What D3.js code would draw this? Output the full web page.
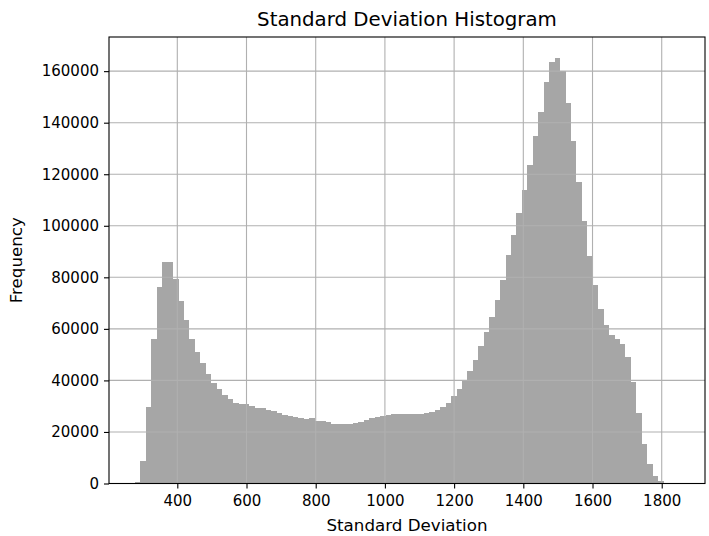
<!DOCTYPE html>
<html>
<head>
<meta charset="utf-8">
<script src="https://cdn.jsdelivr.net/npm/d3@7"></script>
<style>
  html, body { margin: 0; padding: 0; background: #ffffff; }
  svg { display: block; font-family: "DejaVu Sans", sans-serif; }
</style>
</head>
<body>
<svg id="chart" width="709" height="536"></svg>
<script>
// ---- data ----
const titleText = "Standard Deviation Histogram";
const xLabelText = "Standard Deviation";
const yLabelText = "Frequency";

const binStart = 277.7;   // left edge of first bin (std-dev units)
const binWidth = 15.75;   // width of each bin (std-dev units)

const frequencies = [
  600, 8800, 29800, 55900, 76300, 85800, 85800, 79200, 70800, 63300,
  56000, 50900, 46600, 42500, 38900, 36500, 34200, 32700, 31300, 31000,
  30900, 30000, 29400, 29300, 28700, 28000, 27200, 26700, 26200, 25800,
  25300, 24900, 25300, 24200, 24200, 23700, 22900, 22900, 22900, 22900,
  23300, 24000, 24600, 25300, 25700, 26300, 26700, 27100, 26800, 26800,
  26800, 27000, 27000, 27200, 27700, 28500, 29500, 31200, 33800, 36500,
  40000, 43700, 48100, 53200, 58700, 64500, 71100, 79100, 88600, 96600,
  105000, 113800, 123700, 134700, 144300, 155600, 163500, 165000, 160000, 147800,
  132800, 116900, 101800, 88200, 76900, 67900, 61400, 57500, 56200, 54300,
  49100, 39300, 27500, 15400, 7400, 2800, 850, 300, 100, 40
];

const xTicks = [400, 600, 800, 1000, 1200, 1400, 1600, 1800];
const yTicks = [0, 20000, 40000, 60000, 80000, 100000, 120000, 140000, 160000];

// ---- layout ----
const L = 109, R = 705, T = 37, B = 483.5;
const svg = d3.select("#chart");

const bins = frequencies.map((f, i) => ({
  x0: binStart + i * binWidth,
  x1: binStart + (i + 1) * binWidth,
  count: f
}));

const x = d3.scaleLinear().domain([202.6, 1925.1]).range([L, R]);
const yMax = d3.max(frequencies) * 1.05;
const y = d3.scaleLinear().domain([0, yMax]).range([B, T]);

// bars
svg.append("g")
  .selectAll("rect")
  .data(bins)
  .join("rect")
  .attr("x", d => x(d.x0))
  .attr("width", d => x(d.x1) - x(d.x0))
  .attr("y", d => y(d.count))
  .attr("height", d => B - y(d.count))
  .attr("fill", "#a6a6a6")
  .attr("shape-rendering", "crispEdges");

// grid (drawn above bars like matplotlib)
const grid = svg.append("g");
grid.selectAll("line.vx")
  .data(xTicks)
  .join("line")
  .attr("x1", d => x(d)).attr("x2", d => x(d))
  .attr("y1", T).attr("y2", B)
  .attr("stroke", "#b0b0b0").attr("stroke-width", 1.1);
grid.selectAll("line.hy")
  .data(yTicks)
  .join("line")
  .attr("x1", L).attr("x2", R)
  .attr("y1", d => y(d)).attr("y2", d => y(d))
  .attr("stroke", "#b0b0b0").attr("stroke-width", 1.1);

// axes
const xAxis = d3.axisBottom(x).tickValues(xTicks).tickFormat(d3.format("d"))
  .tickSizeInner(5).tickSizeOuter(0).tickPadding(5);
const yAxis = d3.axisLeft(y).tickValues(yTicks).tickFormat(d3.format("d"))
  .tickSizeInner(5).tickSizeOuter(0).tickPadding(5);

const gx = svg.append("g").attr("transform", `translate(0,${B})`).call(xAxis);
const gy = svg.append("g").attr("transform", `translate(${L},0)`).call(yAxis);
[gx, gy].forEach(g => {
  g.select(".domain").remove();
  g.selectAll("line").attr("stroke", "#000").attr("stroke-width", 1.1);
  g.selectAll("text").attr("fill", "#000")
    .style("font-family", "'DejaVu Sans', sans-serif").style("font-size", "15px");
});
gx.selectAll("text").attr("dy", "0.75em").attr("y", 11);

// spines
svg.append("rect")
  .attr("x", L).attr("y", T).attr("width", R - L).attr("height", B - T)
  .attr("fill", "none").attr("stroke", "#000").attr("stroke-width", 1.1);

// title and labels
svg.append("text")
  .attr("x", (L + R) / 2).attr("y", 26)
  .attr("text-anchor", "middle")
  .style("font-size", "19.8px")
  .text(titleText);

svg.append("text")
  .attr("x", (L + R) / 2).attr("y", 531)
  .attr("text-anchor", "middle")
  .style("font-size", "16.7px")
  .text(xLabelText);

svg.append("text")
  .attr("transform", `translate(22,${(T + B) / 2}) rotate(-90)`)
  .attr("text-anchor", "middle")
  .style("font-size", "16.7px")
  .text(yLabelText);
</script>
</body>
</html>
